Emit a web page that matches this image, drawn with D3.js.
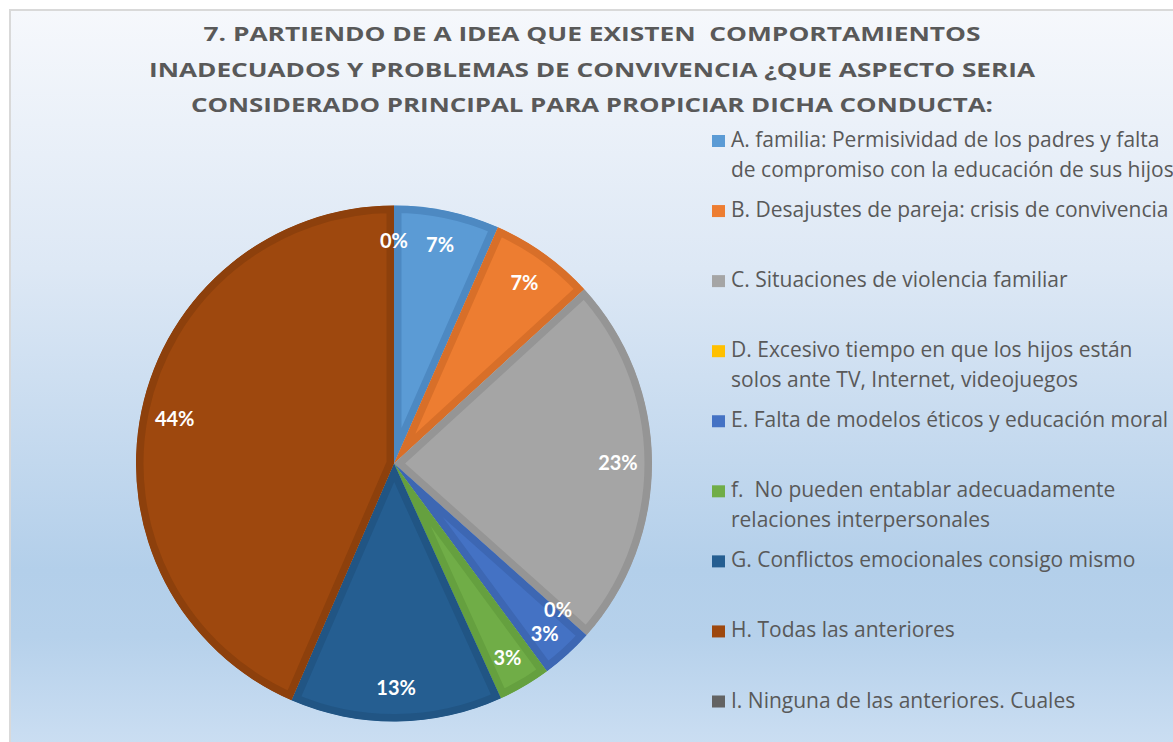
<!DOCTYPE html>
<html>
<head>
<meta charset="utf-8">
<script src="https://cdn.jsdelivr.net/npm/d3@7"></script>
<style>
  html, body { margin: 0; padding: 0; background: #ffffff; }
  svg { display: block; }
  text { white-space: pre; }
</style>
</head>
<body>
<svg id="chart" width="1173" height="742"></svg>
<script>
// ---- data ----
const titleLines = [
  "7. PARTIENDO DE A IDEA QUE EXISTEN  COMPORTAMIENTOS",
  "INADECUADOS Y PROBLEMAS DE CONVIVENCIA ¿QUE ASPECTO SERIA",
  "CONSIDERADO PRINCIPAL PARA PROPICIAR DICHA CONDUCTA:"
];
const categories = ["A", "B", "C", "D", "E", "f", "G", "H", "I"];
const values = [6.6, 6.6, 23.4, 0, 3.3, 3.3, 13.3, 43.5, 0];
const legendLabels = [
  ["A. familia: Permisividad de los padres y falta", "de compromiso con la educación de sus hijos"],
  ["B. Desajustes de pareja: crisis de convivencia"],
  ["C. Situaciones de violencia familiar"],
  ["D. Excesivo tiempo en que los hijos están", "solos ante TV, Internet, videojuegos"],
  ["E. Falta de modelos éticos y educación moral"],
  ["f.  No pueden entablar adecuadamente", "relaciones interpersonales"],
  ["G. Conflictos emocionales consigo mismo"],
  ["H. Todas las anteriores"],
  ["I. Ninguna de las anteriores. Cuales"]
];
const fillColors   = ["#5b9bd5", "#ed7d31", "#a5a5a5", "#ffc000", "#4472c4", "#70ad47", "#255e91", "#9e480e", "#636363"];
const borderColors = ["#4d89c2", "#d86f29", "#959595", "#e6ad00", "#3d67b3", "#65a03f", "#215584", "#8d400c", "#595959"];

// ---- layout ----
const W = 1173, H = 742;
const svg = d3.select("#chart");
const defs = svg.append("defs");

const grad = defs.append("linearGradient").attr("id", "bg")
  .attr("x1", 0).attr("y1", 0).attr("x2", 0).attr("y2", 1);
[[0, "#f6f8fc"], [0.35, "#dde8f5"], [0.76, "#b3cfea"], [0.85, "#b6d1eb"], [1, "#cbdef2"]]
  .forEach(([o, c]) => grad.append("stop").attr("offset", o).attr("stop-color", c));

svg.append("rect").attr("x", 10).attr("y", 10).attr("width", W - 10 + 5).attr("height", H - 10 + 5)
  .attr("fill", "url(#bg)").attr("stroke", "#d9d9d9").attr("stroke-width", 2);

// title
const titleG = svg.append("g");
const titleBase = [40.7, 77.3, 111.7];
const titleWidths = [777, 886, 802];
titleLines.forEach((t, i) => {
  titleG.append("text")
    .attr("x", 592).attr("y", titleBase[i])
    .attr("text-anchor", "middle")
    .attr("font-family", "'Open Sans', sans-serif")
    .attr("font-weight", "bold")
    .attr("font-size", 20)
    .attr("fill", "#595959")
    .attr("textLength", titleWidths[i])
    .attr("lengthAdjust", "spacingAndGlyphs")
    .text(t);
});

// pie
const cx = 394, cy = 463.5, R = 258;
const pie = d3.pie().sort(null).value(d => d);
const arcs = pie(values);
const arc = d3.arc().innerRadius(0).outerRadius(R);
const labelArc = d3.arc().innerRadius(R * 0.868).outerRadius(R * 0.868);

arcs.forEach((a, i) => {
  if (a.endAngle - a.startAngle <= 0) return;
  const id = "clip" + i;
  defs.append("clipPath").attr("id", id)
    .append("path").attr("d", arc(a)).attr("transform", `translate(${cx},${cy})`);
  const g = svg.append("g").attr("clip-path", `url(#${id})`)
    .append("g").attr("transform", `translate(${cx},${cy})`);
  g.append("path").attr("d", arc(a))
    .attr("fill", fillColors[i])
    .attr("stroke", borderColors[i])
    .attr("stroke-width", 15)
    .attr("stroke-linejoin", "round");
});

// labels
const lg = svg.append("g").attr("transform", `translate(${cx},${cy})`);
const pos = arcs.map(a => labelArc.centroid(a));
// nudge the two crowded labels (D "0%" and E "3%") apart vertically
const dy = 24 - (pos[4][1] - pos[3][1]);
if (dy > 0) { pos[3][1] -= dy / 2; pos[3][0] -= 3; pos[4][1] += dy / 2; }
arcs.forEach((a, i) => {
  const [x, y] = pos[i];
  lg.append("text")
    .attr("x", x).attr("y", y)
    .attr("text-anchor", "middle")
    .attr("dominant-baseline", "central")
    .attr("font-family", "Lato, 'Open Sans', sans-serif")
    .attr("font-weight", "bold")
    .attr("font-size", 20)
    .attr("fill", "#ffffff")
    .text(Math.round(values[i]) + "%");
});

// legend
const leg = svg.append("g");
const legY = d3.scaleLinear().domain([0, 8]).range([147, 707.5]);
legendLabels.forEach((lines, i) => {
  const by = legY(i);
  leg.append("rect").attr("x", 712).attr("y", by - 12).attr("width", 13).attr("height", 12)
    .attr("fill", fillColors[i]);
  lines.forEach((t, j) => {
    leg.append("text")
      .attr("x", 731).attr("y", by + j * 29.5)
      .attr("font-family", "'Open Sans', sans-serif")
      .attr("font-size", 21)
      .attr("fill", "#595959")
      .text(t);
  });
});
</script>
</body>
</html>
